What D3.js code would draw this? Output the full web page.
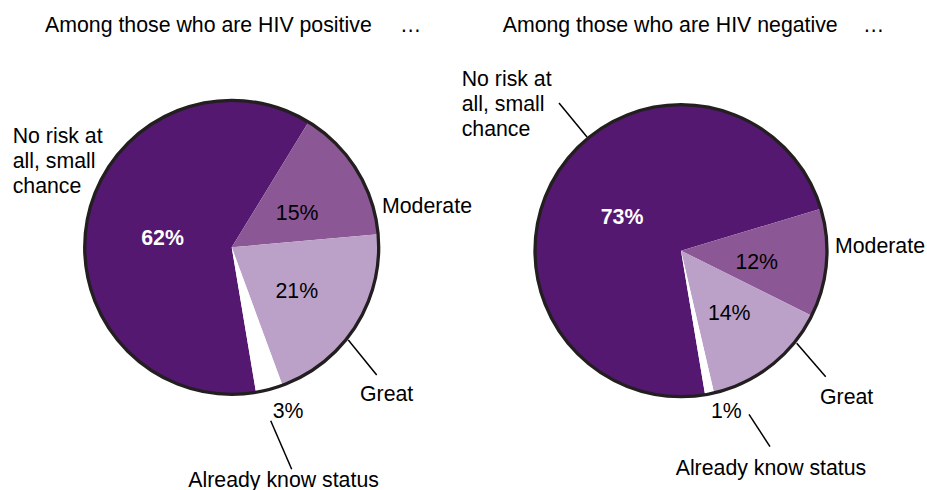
<!DOCTYPE html>
<html>
<head>
<meta charset="utf-8">
<script src="https://cdn.jsdelivr.net/npm/d3@7"></script>
<style>
  html, body { margin: 0; padding: 0; background: #fff; }
  svg { display: block; font-family: "Liberation Sans", Arial, sans-serif; }
</style>
</head>
<body>
<svg id="chart" width="927" height="490"></svg>
<script>
// ---- data ----
const categories = ["No risk at all, small chance", "Moderate", "Great", "Already know status"];
const categoryLabelLines = [["No risk at", "all, small", "chance"], ["Moderate"], ["Great"], ["Already know status"]];
const positiveValues = [62, 15, 21, 3];
const negativeValues = [73, 12, 14, 1];
const panelTitles = ["Among those who are HIV positive", "Among those who are HIV negative"];
const sliceColors = ["#541870", "#8b5795", "#bba0c8", "#ffffff"];

// ---- layout ----
const panels = [
  {
    values: positiveValues, title: panelTitles[0],
    cx: 231.7, cy: 247.3, r: 147,
    titleX: 45, titleY: 32, ellipsisX: 400,
    catPos: [[12.7, 143], [382, 213], [360, 401], [188.3, 486.5]],
    outsidePct: [272.7, 418],
    leaders: [null, null, [[348.3, 340], [376.7, 375]], [[270.7, 420.7], [291.7, 469.3]]]
  },
  {
    values: negativeValues, title: panelTitles[1],
    cx: 681, cy: 250.7, r: 146,
    titleX: 502.7, titleY: 32, ellipsisX: 863,
    catPos: [[461.7, 86], [835, 252.5], [820, 404], [675.7, 475]],
    outsidePct: [711, 418.3],
    leaders: [[[587, 137], [559, 103]], null, [[796.7, 343.3], [825.7, 376.7]], [[749, 414.3], [770, 446.7]]]
  }
];

const svg = d3.select("#chart");
const fontSize = 21.3;
const start = 170.5 * Math.PI / 180;
const pie = d3.pie().sort(null).startAngle(start).endAngle(start + 2 * Math.PI);

panels.forEach(p => {
  // title
  const t = svg.append("text")
    .attr("y", p.titleY)
    .attr("font-size", fontSize)
    .attr("fill", "#000");
  t.append("tspan").attr("x", p.titleX).text(p.title);
  t.append("tspan").attr("x", p.ellipsisX).text("…");

  const g = svg.append("g").attr("transform", `translate(${p.cx},${p.cy})`);
  const arc = d3.arc().innerRadius(0).outerRadius(p.r);
  const arcs = pie(p.values);

  g.selectAll("path.slice")
    .data(arcs)
    .enter().append("path")
    .attr("class", "slice")
    .attr("d", arc)
    .attr("fill", (d, i) => sliceColors[i])
    .attr("stroke", "none");

  g.append("circle")
    .attr("r", p.r)
    .attr("fill", "none")
    .attr("stroke", "#231f20")
    .attr("stroke-width", 3.3);

  // percentage labels inside slices (first three)
  arcs.forEach((d, i) => {
    if (i === 3) return;
    const c = arc.centroid(d);
    g.append("text")
      .attr("x", c[0] + 3)
      .attr("y", c[1])
      .attr("dy", "0.55em")
      .attr("text-anchor", "middle")
      .attr("font-size", fontSize)
      .attr("font-weight", i === 0 ? "bold" : "normal")
      .attr("fill", i === 0 ? "#fff" : "#000")
      .text(p.values[i] + "%");
  });

  // small slice percentage outside
  svg.append("text")
    .attr("x", p.outsidePct[0])
    .attr("y", p.outsidePct[1])
    .attr("font-size", fontSize)
    .attr("fill", "#000")
    .text(p.values[3] + "%");

  // category labels
  categoryLabelLines.forEach((lines, i) => {
    const txt = svg.append("text")
      .attr("font-size", fontSize)
      .attr("fill", "#000");
    lines.forEach((ln, k) => {
      txt.append("tspan")
        .attr("x", p.catPos[i][0])
        .attr("y", p.catPos[i][1] + k * 25)
        .text(ln);
    });
  });

  // leader lines
  p.leaders.forEach(l => {
    if (!l) return;
    svg.append("line")
      .attr("x1", l[0][0]).attr("y1", l[0][1])
      .attr("x2", l[1][0]).attr("y2", l[1][1])
      .attr("stroke", "#000")
      .attr("stroke-width", 1.5);
  });
});
</script>
</body>
</html>
